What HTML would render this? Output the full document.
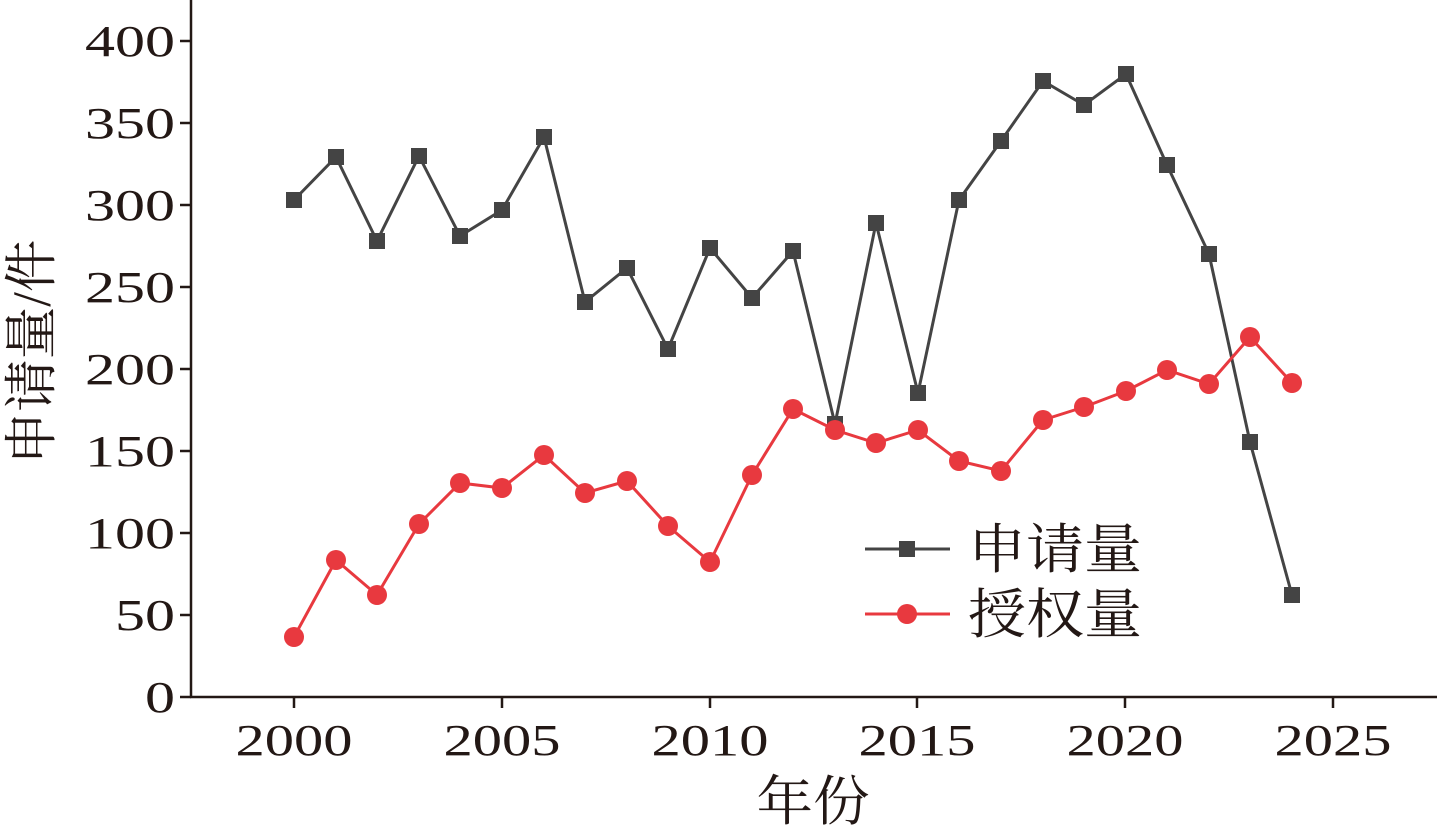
<!DOCTYPE html>
<html><head><meta charset="utf-8"><style>
html,body{margin:0;padding:0;background:#fff;}
svg text{font-family:"Liberation Serif","Noto Serif CJK SC",serif;fill:#231815;}
</style></head><body>
<svg width="1437" height="833" viewBox="0 0 1437 833" xmlns="http://www.w3.org/2000/svg">
<g stroke="#231815" stroke-width="2.5" fill="none">
<line x1="191" y1="0" x2="191" y2="698"/>
<line x1="190" y1="697" x2="1437" y2="697"/>
<line x1="180" y1="697" x2="191" y2="697"/>
<line x1="180" y1="615" x2="191" y2="615"/>
<line x1="180" y1="533" x2="191" y2="533"/>
<line x1="180" y1="451" x2="191" y2="451"/>
<line x1="180" y1="369" x2="191" y2="369"/>
<line x1="180" y1="287" x2="191" y2="287"/>
<line x1="180" y1="205" x2="191" y2="205"/>
<line x1="180" y1="123" x2="191" y2="123"/>
<line x1="180" y1="41" x2="191" y2="41"/>
<line x1="294" y1="697" x2="294" y2="708"/>
<line x1="502" y1="697" x2="502" y2="708"/>
<line x1="710" y1="697" x2="710" y2="708"/>
<line x1="917" y1="697" x2="917" y2="708"/>
<line x1="1125" y1="697" x2="1125" y2="708"/>
<line x1="1333" y1="697" x2="1333" y2="708"/>
</g>
<g font-size="44" text-anchor="end" lengthAdjust="spacingAndGlyphs">
<text x="175" y="712" textLength="30" lengthAdjust="spacingAndGlyphs">0</text>
<text x="175" y="630" textLength="60" lengthAdjust="spacingAndGlyphs">50</text>
<text x="175" y="548" textLength="90" lengthAdjust="spacingAndGlyphs">100</text>
<text x="175" y="466" textLength="90" lengthAdjust="spacingAndGlyphs">150</text>
<text x="175" y="384" textLength="90" lengthAdjust="spacingAndGlyphs">200</text>
<text x="175" y="302" textLength="90" lengthAdjust="spacingAndGlyphs">250</text>
<text x="175" y="220" textLength="90" lengthAdjust="spacingAndGlyphs">300</text>
<text x="175" y="138" textLength="90" lengthAdjust="spacingAndGlyphs">350</text>
<text x="175" y="56" textLength="90" lengthAdjust="spacingAndGlyphs">400</text>
</g>
<g font-size="44" text-anchor="middle">
<text x="294" y="755" textLength="117" lengthAdjust="spacingAndGlyphs">2000</text>
<text x="502" y="755" textLength="117" lengthAdjust="spacingAndGlyphs">2005</text>
<text x="710" y="755" textLength="117" lengthAdjust="spacingAndGlyphs">2010</text>
<text x="917" y="755" textLength="117" lengthAdjust="spacingAndGlyphs">2015</text>
<text x="1125" y="755" textLength="117" lengthAdjust="spacingAndGlyphs">2020</text>
<text x="1333" y="755" textLength="117" lengthAdjust="spacingAndGlyphs">2025</text>
<text x="813" y="820" font-size="54" textLength="113" lengthAdjust="spacingAndGlyphs">年份</text>
<text transform="translate(50,352) rotate(-90)" font-size="54" textLength="225" lengthAdjust="spacingAndGlyphs">申请量/件</text>
</g>
<polyline fill="none" stroke="#444" stroke-width="3" points="294,200 336,157 377,241 419,156 460,236 502,210 544,137 585,302 627,268 668,349 710,248 752,298 793,251 835,424 876,223 918,393 959,200 1001,141 1043,81 1084,105 1126,74 1167,165 1209,254 1250,442 1292,595"/>
<g fill="#444">
<rect x="286" y="192" width="16" height="16"/><rect x="328" y="149" width="16" height="16"/><rect x="369" y="233" width="16" height="16"/><rect x="411" y="148" width="16" height="16"/><rect x="452" y="228" width="16" height="16"/><rect x="494" y="202" width="16" height="16"/><rect x="536" y="129" width="16" height="16"/><rect x="577" y="294" width="16" height="16"/><rect x="619" y="260" width="16" height="16"/><rect x="660" y="341" width="16" height="16"/><rect x="702" y="240" width="16" height="16"/><rect x="744" y="290" width="16" height="16"/><rect x="785" y="243" width="16" height="16"/><rect x="827" y="416" width="16" height="16"/><rect x="868" y="215" width="16" height="16"/><rect x="910" y="385" width="16" height="16"/><rect x="951" y="192" width="16" height="16"/><rect x="993" y="133" width="16" height="16"/><rect x="1035" y="73" width="16" height="16"/><rect x="1076" y="97" width="16" height="16"/><rect x="1118" y="66" width="16" height="16"/><rect x="1159" y="157" width="16" height="16"/><rect x="1201" y="246" width="16" height="16"/><rect x="1242" y="434" width="16" height="16"/><rect x="1284" y="587" width="16" height="16"/>
</g>
<polyline fill="none" stroke="#e8393f" stroke-width="3" points="294,637 336,560 377,595 419,524 460,483 502,488 544,455 585,493 627,481 668,526 710,562 752,475 793,409 835,430 876,443 918,430 959,461 1001,471 1043,420 1084,407 1126,391 1167,370 1209,384 1250,337 1292,383"/>
<g fill="#e8393f">
<circle cx="294" cy="637" r="10"/><circle cx="336" cy="560" r="10"/><circle cx="377" cy="595" r="10"/><circle cx="419" cy="524" r="10"/><circle cx="460" cy="483" r="10"/><circle cx="502" cy="488" r="10"/><circle cx="544" cy="455" r="10"/><circle cx="585" cy="493" r="10"/><circle cx="627" cy="481" r="10"/><circle cx="668" cy="526" r="10"/><circle cx="710" cy="562" r="10"/><circle cx="752" cy="475" r="10"/><circle cx="793" cy="409" r="10"/><circle cx="835" cy="430" r="10"/><circle cx="876" cy="443" r="10"/><circle cx="918" cy="430" r="10"/><circle cx="959" cy="461" r="10"/><circle cx="1001" cy="471" r="10"/><circle cx="1043" cy="420" r="10"/><circle cx="1084" cy="407" r="10"/><circle cx="1126" cy="391" r="10"/><circle cx="1167" cy="370" r="10"/><circle cx="1209" cy="384" r="10"/><circle cx="1250" cy="337" r="10"/><circle cx="1292" cy="383" r="10"/>
</g>
<line x1="865" y1="549" x2="950" y2="549" stroke="#444" stroke-width="3"/>
<rect x="899" y="541" width="16" height="16" fill="#444"/>
<line x1="865" y1="614" x2="950" y2="614" stroke="#e8393f" stroke-width="3"/>
<circle cx="907" cy="614" r="10" fill="#e8393f"/>
<text x="968" y="568" font-size="54" textLength="174" lengthAdjust="spacingAndGlyphs">申请量</text>
<text x="968" y="633" font-size="54" textLength="174" lengthAdjust="spacingAndGlyphs">授权量</text>
</svg>
</body></html>
